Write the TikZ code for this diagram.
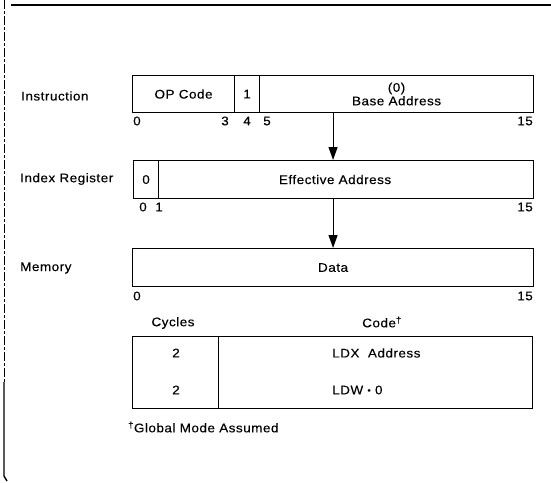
\documentclass[tikz,border=0pt]{standalone}
\usepackage{fontspec}
\setmainfont[FakeStretch=1.08,LetterSpace=4,FakeBold=0.2]{Liberation Sans}
\usetikzlibrary{arrows.meta,calc}
\tikzset{
  lbl/.style={inner sep=0pt, font=\fontsize{12.5}{14.5}\selectfont},
  cell/.style={draw, line width=1.1pt, inner sep=0pt, anchor=north west, font=\fontsize{12.5}{14.5}\selectfont, align=center},
  arr/.style={line width=1.1pt, -{Triangle[length=13pt,width=9pt]}}
}
\begin{document}
\begin{tikzpicture}[x=1pt,y=-1pt]
\useasboundingbox (0,0) rectangle (551,482);
% frame lines
\draw[line width=2.2pt] (11,5) -- (551,5);
\draw[line width=0.7pt, dash pattern=on 9pt off 2pt on 3pt off 2pt] (4,0) -- (4,382);
\draw[line width=1.4pt] (4,382) -- (4,476) -- (7,481);
% left labels
\node[lbl, anchor=west] (linst) at (21,96) {Instruction};
\node[lbl, anchor=west] (lidx) at (20,179) {Index Register};
\node[lbl, anchor=west] (lmem) at (20,268) {Memory};
% instruction
\node[cell, minimum width=102pt, minimum height=37pt] (op) at (132,75) {OP Code};
\node[cell, minimum width=25pt, minimum height=37pt] (one) at (234,75) {1};
\node[cell, minimum width=274pt, minimum height=37pt] (base) at (259,75) {(0)\\[-1pt]Base Address};
\node[lbl, anchor=west] (b0) at (133,121) {0};
\node[lbl] (b3) at (225,121) {3};
\node[lbl] (b4) at (247,121) {4};
\node[lbl] (b5) at (267,121) {5};
\node[lbl, anchor=east] (b15) at (533,121) {15};
% index register
\node[cell, minimum width=25pt, minimum height=38pt] (zero) at (133,160) {0};
\node[cell, minimum width=375pt, minimum height=38pt, text width=375pt] (eff) at (158,160) {\hspace*{-22pt}Effective Address};
\node[lbl] (i0) at (143,207) {0};
\node[lbl] (i1) at (159,207) {1};
\node[lbl, anchor=east] (i15) at (533,207) {15};
% memory
\node[cell, minimum width=401pt, minimum height=38pt] (mem) at (132,248) {Data};
\node[lbl, anchor=west] (m0) at (133,296) {0};
\node[lbl, anchor=east] (m15) at (533,296) {15};
% arrows
\draw[arr] (mem.north |- base.south) -- (mem.north |- eff.north);
\draw[arr] (eff.south -| mem.north) -- (mem.north);
% table
\node[lbl] (hcyc) at (173,323) {Cycles};
\node[lbl] (hcode) at (382,322) {Code\textsuperscript{†}};
\node[cell, minimum width=86pt, minimum height=72pt] (cyc) at (132,336) {};
\node[cell, minimum width=314pt, minimum height=72pt] (code) at (218,336) {};
\node[lbl] (c1) at (176,353) {2};
\node[lbl] (c2) at (176,390) {2};
\node[lbl, anchor=west] (d1) at (332,353) {LDX\ \ Address};
\node[lbl, anchor=west] (d2) at (332,390) {LDW \raisebox{1pt}{\scalebox{0.7}{•}} 0};
\node[lbl, anchor=west] (foot) at (128,427) {\textsuperscript{†}Global Mode Assumed};
\end{tikzpicture}
\end{document}
